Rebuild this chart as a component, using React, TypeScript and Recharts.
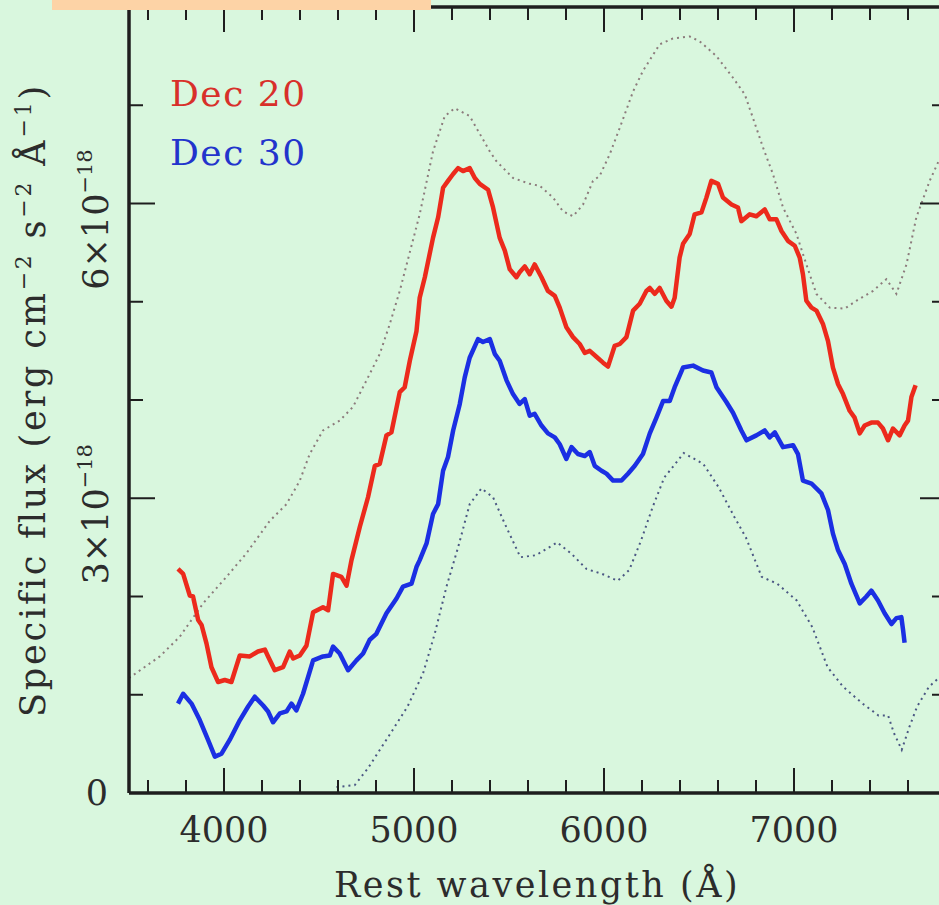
import React from 'react';
import { LineChart, Line, XAxis, YAxis, Customized } from 'recharts';

// Rest wavelength (Å) and specific flux (units of 1e-18)
const dec20Wave = [3758, 3785, 3820, 3837, 3864, 3882, 3908, 3934, 3969, 4004, 4039, 4083, 4136, 4179, 4215, 4232, 4267, 4311, 4346, 4364, 4399, 4434, 4469, 4521, 4548, 4574, 4618, 4645, 4671, 4715, 4758, 4794, 4820, 4855, 4881, 4925, 4951, 4978, 5013, 5030, 5057, 5100, 5127, 5153, 5179, 5206, 5232, 5258, 5293, 5320, 5346, 5390, 5416, 5451, 5478, 5504, 5539, 5556, 5583, 5609, 5635, 5671, 5705, 5741, 5767, 5802, 5837, 5872, 5899, 5925, 5960, 5995, 6021, 6056, 6083, 6118, 6153, 6188, 6223, 6241, 6267, 6293, 6328, 6355, 6372, 6398, 6416, 6451, 6477, 6513, 6539, 6565, 6600, 6626, 6671, 6705, 6723, 6767, 6802, 6846, 6872, 6907, 6934, 6968, 7004, 7030, 7047, 7065, 7092, 7118, 7153, 7179, 7205, 7232, 7258, 7293, 7319, 7346, 7372, 7407, 7442, 7468, 7495, 7521, 7556, 7582, 7600, 7618, 7640];
const dec20Flux = [2.28, 2.23, 2.01, 2.0, 1.76, 1.71, 1.52, 1.28, 1.13, 1.15, 1.13, 1.4, 1.39, 1.44, 1.46, 1.39, 1.25, 1.28, 1.44, 1.37, 1.4, 1.5, 1.84, 1.89, 1.86, 2.23, 2.2, 2.11, 2.37, 2.71, 3.01, 3.33, 3.35, 3.64, 3.67, 4.08, 4.13, 4.4, 4.7, 5.04, 5.25, 5.65, 5.86, 6.16, 6.23, 6.3, 6.36, 6.33, 6.36, 6.26, 6.2, 6.14, 5.96, 5.65, 5.52, 5.33, 5.25, 5.3, 5.36, 5.28, 5.38, 5.25, 5.11, 5.06, 4.94, 4.74, 4.64, 4.57, 4.48, 4.5, 4.44, 4.38, 4.34, 4.55, 4.57, 4.64, 4.91, 4.98, 5.11, 5.14, 5.08, 5.14, 5.01, 4.95, 5.04, 5.45, 5.59, 5.69, 5.89, 5.91, 6.06, 6.23, 6.2, 6.06, 5.99, 5.96, 5.82, 5.89, 5.87, 5.94, 5.84, 5.84, 5.72, 5.62, 5.57, 5.45, 5.28, 5.01, 4.94, 4.91, 4.77, 4.6, 4.33, 4.16, 4.06, 3.89, 3.82, 3.66, 3.74, 3.77, 3.77, 3.71, 3.59, 3.71, 3.64, 3.74, 3.79, 4.03, 4.15];

const dec30Wave = [3758, 3785, 3829, 3873, 3916, 3952, 3987, 4030, 4083, 4127, 4162, 4206, 4232, 4258, 4294, 4329, 4355, 4381, 4416, 4469, 4521, 4557, 4574, 4609, 4653, 4697, 4732, 4767, 4802, 4855, 4908, 4942, 4987, 5013, 5030, 5066, 5100, 5127, 5153, 5179, 5206, 5241, 5267, 5293, 5337, 5363, 5399, 5425, 5451, 5487, 5521, 5556, 5583, 5609, 5635, 5671, 5705, 5741, 5767, 5802, 5829, 5863, 5899, 5925, 5951, 5987, 6013, 6048, 6092, 6126, 6162, 6205, 6241, 6276, 6311, 6346, 6372, 6416, 6469, 6521, 6565, 6592, 6644, 6679, 6723, 6750, 6802, 6846, 6872, 6899, 6942, 6995, 7021, 7047, 7092, 7144, 7179, 7205, 7232, 7267, 7302, 7346, 7381, 7407, 7442, 7477, 7513, 7539, 7565, 7574, 7582];
const dec30Flux = [0.91, 1.01, 0.91, 0.74, 0.54, 0.37, 0.4, 0.54, 0.74, 0.88, 0.98, 0.89, 0.83, 0.72, 0.81, 0.83, 0.91, 0.84, 1.01, 1.35, 1.39, 1.4, 1.49, 1.42, 1.25, 1.35, 1.42, 1.56, 1.62, 1.83, 1.98, 2.1, 2.13, 2.3, 2.37, 2.54, 2.84, 2.94, 3.28, 3.42, 3.69, 3.96, 4.23, 4.43, 4.62, 4.59, 4.62, 4.47, 4.4, 4.2, 4.06, 3.96, 4.01, 3.84, 3.86, 3.74, 3.66, 3.62, 3.55, 3.4, 3.52, 3.45, 3.43, 3.47, 3.33, 3.28, 3.25, 3.18, 3.18, 3.25, 3.33, 3.45, 3.66, 3.82, 3.99, 3.99, 4.13, 4.33, 4.35, 4.3, 4.28, 4.13, 3.98, 3.87, 3.69, 3.59, 3.64, 3.69, 3.62, 3.67, 3.52, 3.54, 3.45, 3.18, 3.15, 3.05, 2.88, 2.64, 2.47, 2.33, 2.13, 1.93, 2.0, 2.06, 1.96, 1.83, 1.72, 1.78, 1.79, 1.66, 1.53];

// dotted envelopes
const upperWave = [3500, 3662, 3767, 3890, 4013, 4118, 4241, 4329, 4399, 4451, 4521, 4609, 4679, 4750, 4820, 4872, 4925, 5030, 5100, 5162, 5214, 5293, 5399, 5434, 5521, 5609, 5662, 5732, 5784, 5837, 5890, 5942, 5977, 6030, 6083, 6153, 6205, 6293, 6363, 6451, 6504, 6592, 6679, 6741, 6784, 6837, 6889, 6942, 7013, 7065, 7118, 7188, 7267, 7328, 7416, 7486, 7539, 7592, 7644, 7714, 7761];
const upperFlux = [1.17, 1.39, 1.59, 1.93, 2.2, 2.44, 2.77, 2.94, 3.18, 3.45, 3.69, 3.79, 3.93, 4.2, 4.47, 4.77, 5.11, 5.89, 6.53, 6.89, 6.97, 6.89, 6.53, 6.43, 6.26, 6.2, 6.18, 6.06, 5.92, 5.87, 5.99, 6.23, 6.28, 6.5, 6.77, 7.14, 7.35, 7.62, 7.68, 7.7, 7.65, 7.5, 7.28, 7.11, 6.87, 6.57, 6.3, 5.96, 5.69, 5.38, 5.08, 4.94, 4.93, 5.01, 5.11, 5.23, 5.08, 5.38, 5.86, 6.23, 6.43];

const lowerWave = [4592, 4688, 4757, 4864, 4966, 5048, 5109, 5171, 5232, 5293, 5355, 5416, 5478, 5560, 5642, 5754, 5826, 5908, 5990, 6072, 6133, 6195, 6256, 6317, 6420, 6522, 6604, 6686, 6747, 6830, 6912, 7014, 7096, 7177, 7259, 7361, 7444, 7495, 7526, 7567, 7607, 7648, 7710, 7761];
const lowerFlux = [0.06, 0.08, 0.25, 0.57, 0.88, 1.22, 1.62, 2.1, 2.5, 2.94, 3.1, 3.01, 2.74, 2.4, 2.42, 2.55, 2.44, 2.28, 2.23, 2.16, 2.27, 2.57, 2.91, 3.21, 3.46, 3.35, 3.11, 2.81, 2.6, 2.2, 2.13, 1.96, 1.69, 1.28, 1.08, 0.91, 0.79, 0.79, 0.61, 0.44, 0.67, 0.88, 1.08, 1.17];

const waveTicks = [3600, 3800, 4000, 4200, 4400, 4600, 4800, 5000, 5200, 5400, 5600, 5800, 6000, 6200, 6400, 6600, 6800, 7000, 7200, 7400, 7600];
const majorWaveTicks = [4000, 5000, 6000, 7000];
const fluxTicks = [0, 1, 2, 3, 4, 5, 6, 7];
const majorFluxTicks = [0, 3, 6];
const legendLabels = ['Dec 20', 'Dec 30'];

const toPoints = (wave: number[], flux: number[]) => wave.map((x, i) => ({ x, y: flux[i] }));
const dec20 = toPoints(dec20Wave, dec20Flux);
const dec30 = toPoints(dec30Wave, dec30Flux);
const upper = toPoints(upperWave, upperFlux);
const lower = toPoints(lowerWave, lowerFlux);

const font = '"DejaVu Serif", serif';
const bg = '#d9f7de';
const ink = '#1e1e1e';
const textInk = '#2c2c2c';
const red = '#ec2a1c';
const blue = '#1b2fe3';

const BottomTick = ({ x, y, payload }: any) => {
  const major = majorWaveTicks.includes(payload.value);
  return (
    <g>
      <line x1={x} y1={y} x2={x} y2={y - (major ? 25 : 13)} stroke={ink} strokeWidth={2} />
      {major && (
        <text x={x} y={y + 49} textAnchor="middle" fontFamily={font} fontSize={35} fill={textInk}>
          {payload.value}
        </text>
      )}
    </g>
  );
};

const TopTick = ({ x, y, payload }: any) => {
  const major = majorWaveTicks.includes(payload.value);
  return <line x1={x} y1={y} x2={x} y2={y + (major ? 25 : 13)} stroke={ink} strokeWidth={2} />;
};

const LeftTick = ({ x, y, payload }: any) => {
  const v = payload.value;
  const major = majorFluxTicks.includes(v);
  const bx = x - 21;
  const cy = y + 16;
  return (
    <g>
      {v !== 0 && <line x1={x} y1={y} x2={x + (major ? 26 : 14)} y2={y} stroke={ink} strokeWidth={2} />}
      {v === 0 && (
        <text x={x - 32} y={y + 12} textAnchor="middle" fontFamily={font} fontSize={35} fill={textInk}>0</text>
      )}
      {major && v !== 0 && (
        <text
          transform={`rotate(-90 ${bx} ${cy})`}
          x={bx}
          y={cy}
          textAnchor="middle"
          fontFamily={font}
          fontSize={35}
          fill={textInk}
        >
          {`${v}×10`}
          <tspan dy={-16} fontSize={21}>−18</tspan>
        </text>
      )}
    </g>
  );
};

const RightTick = ({ x, y, payload }: any) => {
  const major = majorFluxTicks.includes(payload.value);
  if (payload.value === 0) return <g />;
  return <line x1={x} y1={y} x2={x - (major ? 26 : 14)} y2={y} stroke={ink} strokeWidth={2} />;
};

const Texts = () => (
  <g fontFamily={font} fill={textInk}>
    <text x={537} y={897} textAnchor="middle" fontSize={35} letterSpacing={2.5}>
      Rest wavelength (Å)
    </text>
    <text transform="rotate(-90 45 400)" x={45} y={400} textAnchor="middle" fontSize={35} letterSpacing={2.8}>
      Specific flux (erg cm
      <tspan dy={-14} fontSize={22}>−2</tspan>
      <tspan dy={14}>{' s'}</tspan>
      <tspan dy={-14} fontSize={22}>−2</tspan>
      <tspan dy={14}>{' Å'}</tspan>
      <tspan dy={-14} fontSize={22}>−1</tspan>
      <tspan dy={14}>)</tspan>
    </text>
    <text x={170} y={106} fontSize={36} letterSpacing={1.5} fill="#d8302a">{legendLabels[0]}</text>
    <text x={170} y={165} fontSize={36} letterSpacing={1.5} fill="#2234cc">{legendLabels[1]}</text>
  </g>
);

export default function App() {
  const axisLine = { stroke: ink, strokeWidth: 3.5 };
  return (
    <div style={{ position: 'absolute', left: 0, top: 0, width: 939, height: 905, overflow: 'hidden', background: bg }}>
      <LineChart width={960} height={905} margin={{ top: 0, right: 0, bottom: 0, left: 0 }}>
        <XAxis
          xAxisId="b"
          type="number"
          dataKey="x"
          domain={[3500, 7800]}
          allowDataOverflow
          ticks={waveTicks}
          interval={0}
          tick={(p: any) => <BottomTick {...p} />}
          tickLine={false}
          tickSize={0}
          tickMargin={0}
          axisLine={axisLine}
          height={112}
        />
        <XAxis
          xAxisId="t"
          orientation="top"
          type="number"
          dataKey="x"
          domain={[3500, 7800]}
          allowDataOverflow
          ticks={waveTicks}
          interval={0}
          tick={(p: any) => <TopTick {...p} />}
          tickLine={false}
          tickSize={0}
          tickMargin={0}
          axisLine={axisLine}
          height={7}
        />
        <YAxis
          yAxisId="l"
          type="number"
          domain={[0, 8]}
          allowDataOverflow
          ticks={fluxTicks}
          interval={0}
          tick={(p: any) => <LeftTick {...p} />}
          tickLine={false}
          tickSize={0}
          tickMargin={0}
          axisLine={axisLine}
          width={129}
        />
        <YAxis
          yAxisId="r"
          orientation="right"
          type="number"
          domain={[0, 8]}
          allowDataOverflow
          ticks={fluxTicks}
          interval={0}
          tick={(p: any) => <RightTick {...p} />}
          tickLine={false}
          tickSize={0}
          tickMargin={0}
          axisLine={axisLine}
          width={14}
        />
        <Line data={upper} dataKey="y" xAxisId="b" yAxisId="l" type="linear" stroke="#8c7b7c" strokeWidth={2} strokeDasharray="2 4" dot={false} activeDot={false} isAnimationActive={false} />
        <Line data={lower} dataKey="y" xAxisId="b" yAxisId="l" type="linear" stroke="#4b5783" strokeWidth={2} strokeDasharray="2 4" dot={false} activeDot={false} isAnimationActive={false} />
        <Line data={dec20} dataKey="y" xAxisId="b" yAxisId="l" type="linear" stroke={red} strokeWidth={4.5} strokeLinejoin="round" dot={false} activeDot={false} isAnimationActive={false} />
        <Line data={dec30} dataKey="y" xAxisId="b" yAxisId="l" type="linear" stroke={blue} strokeWidth={4.5} strokeLinejoin="round" dot={false} activeDot={false} isAnimationActive={false} />
        <Customized component={Texts} />
      </LineChart>
      <div style={{ position: 'absolute', left: 52, top: 0, width: 379, height: 10, background: '#fdd3a6' }} />
    </div>
  );
}
